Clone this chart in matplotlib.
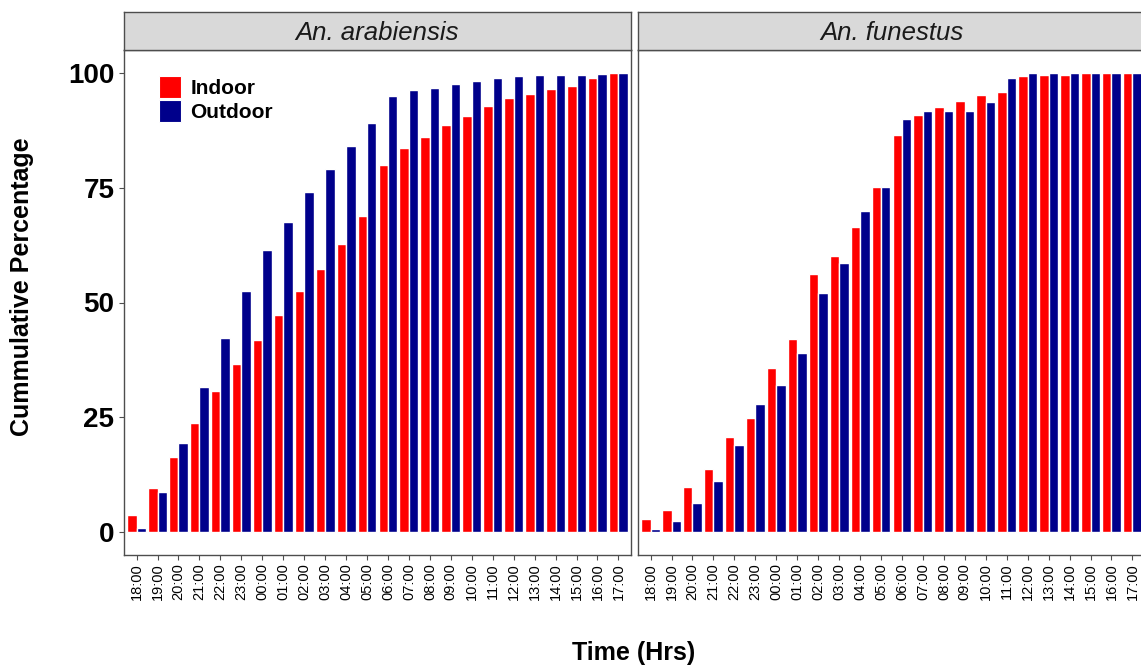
import numpy as np
import matplotlib.pyplot as plt
from matplotlib.patches import Patch

plt.rcParams['font.family'] = ['Liberation Sans', 'DejaVu Sans']

# hourly cumulative percentages
hours = ['18:00', '19:00', '20:00', '21:00', '22:00', '23:00', '00:00', '01:00',
         '02:00', '03:00', '04:00', '05:00', '06:00', '07:00', '08:00', '09:00',
         '10:00', '11:00', '12:00', '13:00', '14:00', '15:00', '16:00', '17:00']
species = ['An. arabiensis', 'An. funestus']
locations = ['Indoor', 'Outdoor']
colours = ['#FF0000', '#00008B']

arabiensis_indoor = [3.7, 9.5, 16.4, 23.8, 30.7, 36.6, 41.8, 47.2, 52.5, 57.4, 62.7, 68.8,
                     79.9, 83.6, 86.0, 88.6, 90.6, 92.8, 94.6, 95.4, 96.4, 97.1, 98.8, 100.0]
arabiensis_outdoor = [0.9, 8.8, 19.5, 31.6, 42.2, 52.6, 61.4, 67.5, 74.0, 79.0, 84.1, 89.1,
                      94.9, 96.2, 96.7, 97.6, 98.3, 99.0, 99.4, 99.6, 99.6, 99.6, 99.7, 100.0]
funestus_indoor = [2.9, 4.9, 9.9, 13.7, 20.7, 24.9, 35.7, 42.0, 56.1, 60.2, 66.4, 75.1,
                   86.4, 90.9, 92.5, 93.8, 95.1, 95.9, 99.3, 99.6, 99.6, 100.0, 100.0, 100.0]
funestus_outdoor = [0.6, 2.3, 6.4, 11.2, 18.9, 27.8, 32.0, 39.1, 52.1, 58.6, 69.9, 75.1,
                    90.0, 91.8, 91.8, 91.8, 93.6, 98.8, 100.0, 100.0, 100.0, 100.0, 100.0, 100.0]

data = {
    'An. arabiensis': [arabiensis_indoor, arabiensis_outdoor],
    'An. funestus': [funestus_indoor, funestus_outdoor],
}

W, H = 1141, 666
fig = plt.figure(figsize=(W / 100, H / 100), dpi=100)


def px_axes(l, t, r, b):
    return fig.add_axes([l / W, 1 - b / H, (r - l) / W, (b - t) / H])


border = '#4d4d4d'
panels = [(124, 631), (638, 1145)]
x = np.arange(len(hours))
bar_w = 0.45

for k, sp in enumerate(species):
    l, r = panels[k]
    ax = px_axes(l, 50, r, 555)
    for j, loc in enumerate(locations):
        ax.bar(x + (j - 0.5) * bar_w, data[sp][j], width=bar_w, color=colours[j],
               edgecolor='white', linewidth=1.0, label=loc)
    ax.set_xlim(-0.6, len(hours) - 0.4)
    ax.set_ylim(-5, 105)
    ax.set_xticks(x)
    ax.set_xticklabels(hours, rotation=90, fontsize=10.5, color='black')
    ax.set_yticks([0, 25, 50, 75, 100])
    ax.tick_params(axis='x', length=3.5, width=0.8, color=border, pad=2.5)
    if k == 0:
        ax.set_yticklabels(['0', '25', '50', '75', '100'], fontsize=20,
                           fontweight='bold', color='black')
        ax.tick_params(axis='y', length=3.5, width=0.8, color=border, pad=3.5)
    else:
        ax.tick_params(axis='y', left=False, labelleft=False)
    for s in ax.spines.values():
        s.set_color(border)
        s.set_linewidth(1.0)

    # facet strip
    st = px_axes(l, 12, r, 50)
    st.set_facecolor('#D9D9D9')
    st.set_xticks([])
    st.set_yticks([])
    for s in st.spines.values():
        s.set_color(border)
        s.set_linewidth(1.0)
    st.text(0.5, 10 / 38, sp, transform=st.transAxes, ha='center', va='baseline',
            fontsize=18.5, style='italic', color='#1a1a1a')

    if k == 0:
        handles = [Patch(facecolor=c, edgecolor='white', linewidth=0.8) for c in colours]
        ax.legend(handles, locations, loc='upper left',
                  bbox_to_anchor=(159 / W, 1 - 76 / H), bbox_transform=fig.transFigure,
                  frameon=False, borderpad=0, borderaxespad=0,
                  handlelength=1.06, handleheight=1.25, handletextpad=0.45,
                  labelspacing=0.1, prop={'size': 15, 'weight': 'bold'})

fig.text(22 / W, 1 - 287 / H, 'Cummulative Percentage', rotation=90, ha='center',
         va='center', fontsize=18, fontweight='bold')
fig.text(634 / W, 1 - 660 / H, 'Time (Hrs)', ha='center', va='baseline',
         fontsize=18, fontweight='bold')

fig.savefig('out.png', dpi=100)
